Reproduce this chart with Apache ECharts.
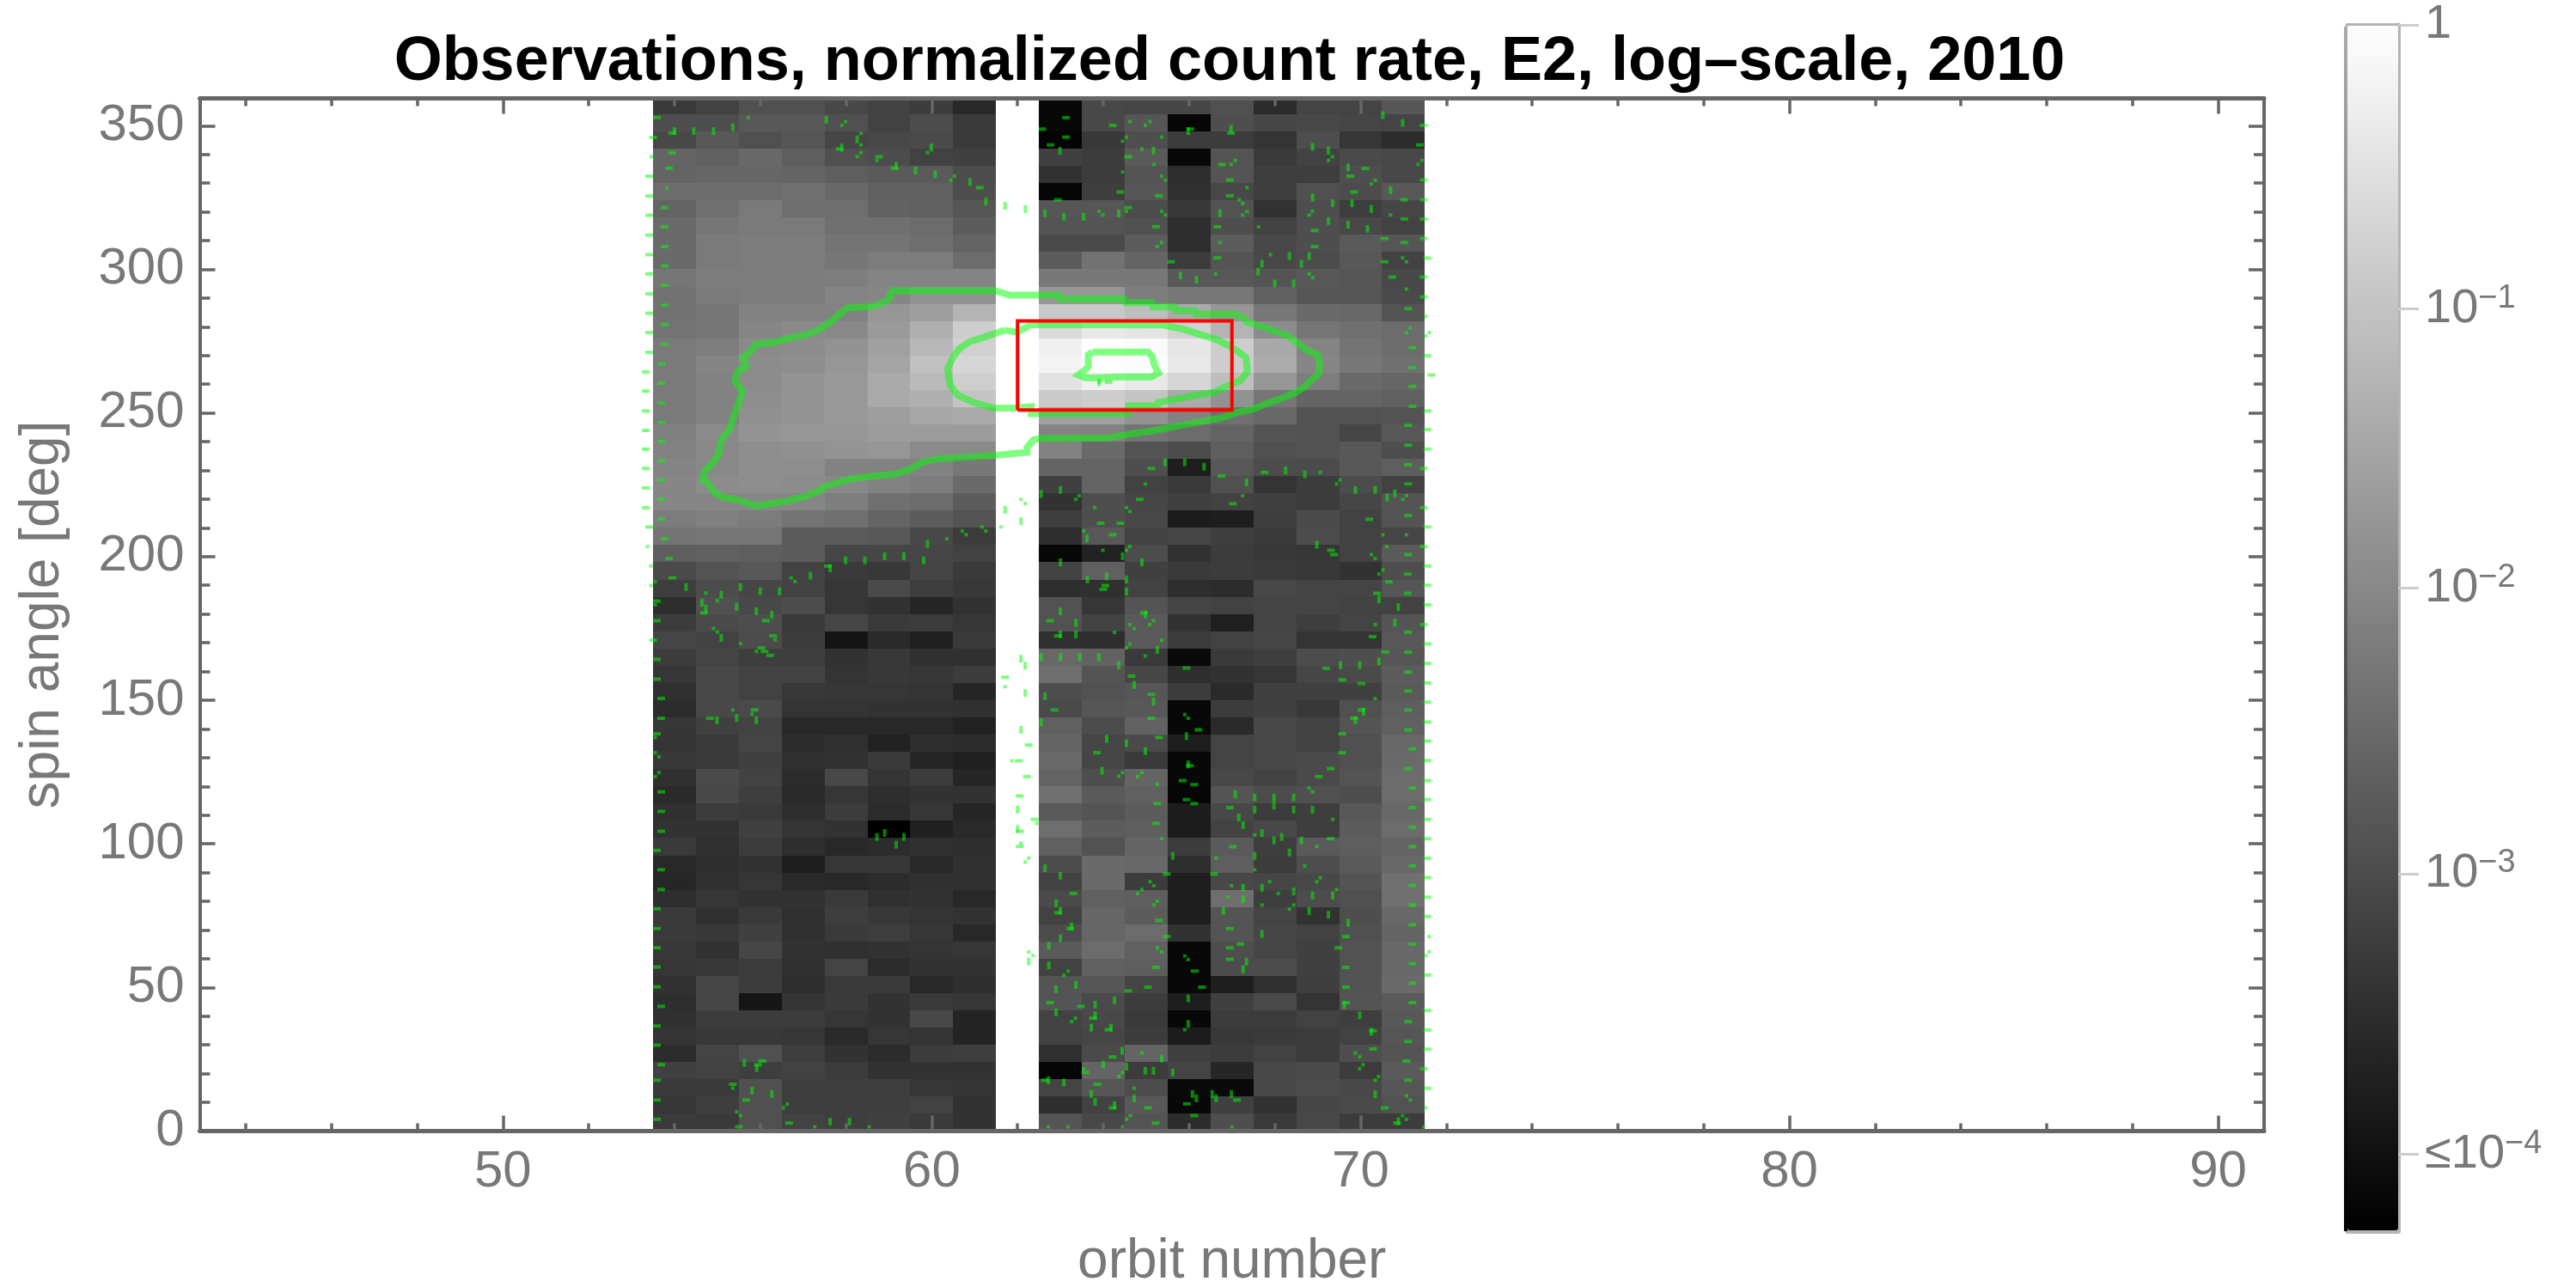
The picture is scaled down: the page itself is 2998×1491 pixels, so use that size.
<!DOCTYPE html>
<html><head><meta charset="utf-8">
<style>html,body{margin:0;padding:0;background:#fff}#c{width:2998px;height:1491px}</style>
<script src="https://cdn.jsdelivr.net/npm/echarts@6/dist/echarts.min.js"></script>
</head><body><div id="c"></div>
<script>
const titleText = 'Observations, normalized count rate, E2, log–scale, 2010';
const xName = 'orbit number';
const yName = 'spin angle [deg]';
const xMajor = [50,60,70,80,90];
const xMinor = [44,46,48,52,54,56,58,62,64,66,68,72,74,76,78,82,84,86,88];
const yMajor = [0,50,100,150,200,250,300,350];
const yMinor = [10,20,30,40,60,70,80,90,110,120,130,140,160,170,180,190,210,220,230,240,260,270,280,290,310,320,330,340];
const orbits = [54,55,56,57,58,59,60,61,63,64,65,66,67,68,69,70,71];
// count rate on the colour bar's log scale, 0 (black, below 10^-4) to 255 (white, 1); rows run from 357 deg down to 3 deg
const logRateRows = [
[58,66,80,80,72,66,60,40,8,72,70,70,80,44,68,68,86],
[78,78,88,88,80,66,76,58,8,72,86,6,78,70,72,70,68],
[72,88,80,86,70,72,74,58,4,56,78,60,60,52,78,54,44],
[100,96,104,94,80,76,66,64,64,60,90,8,84,58,66,74,72],
[100,102,102,100,94,90,90,76,50,60,84,46,84,62,62,78,72],
[108,108,108,112,104,96,96,78,6,62,86,48,72,62,80,76,88],
[100,112,122,110,110,98,96,86,86,86,76,56,82,50,78,62,70],
[106,118,122,122,112,112,108,92,84,84,80,46,78,66,78,72,66],
[106,122,124,124,116,116,110,100,74,74,92,46,92,72,78,90,86],
[106,122,124,124,118,124,124,108,92,114,100,60,84,72,76,88,66],
[118,124,124,124,126,132,132,132,120,120,120,88,88,84,88,86,72],
[114,122,124,124,132,134,146,146,150,150,125,120,120,96,86,86,74],
[114,118,130,130,130,150,158,180,200,200,190,170,150,120,106,104,84],
[116,118,134,138,136,154,175,205,218,232,228,210,180,140,118,112,108],
[122,126,138,140,146,160,184,208,240,254,250,230,205,168,132,116,108],
[122,132,140,142,150,164,192,214,243,253,252,232,205,172,134,120,112],
[122,130,140,148,152,170,186,206,226,240,232,214,190,150,126,106,102],
[122,130,142,148,152,170,176,196,202,205,196,170,145,118,100,100,96],
[122,130,144,148,152,158,166,170,160,160,146,130,112,104,82,82,84],
[128,138,148,150,150,156,156,156,132,130,116,108,100,84,82,70,88],
[130,136,142,144,148,150,138,138,130,106,84,76,94,80,82,88,78],
[132,136,142,142,130,130,130,120,100,100,78,30,88,76,76,88,94],
[134,140,142,140,136,130,125,106,64,100,66,58,80,52,60,76,66],
[134,134,134,134,126,112,108,92,50,78,70,64,66,64,60,70,84],
[124,128,124,116,112,100,92,84,62,78,72,28,30,62,74,66,84],
[116,118,118,92,92,88,72,60,46,88,66,70,62,58,76,66,70],
[94,96,94,92,70,70,70,66,8,34,76,50,60,56,54,66,90],
[74,84,88,66,58,56,68,58,66,96,64,58,60,58,56,50,78],
[62,76,70,66,54,74,62,56,46,48,66,46,44,72,68,68,86],
[46,80,72,76,54,50,38,50,82,54,84,68,66,68,68,66,66],
[60,74,78,58,70,58,60,54,82,66,90,50,32,68,62,68,84],
[70,66,76,60,20,42,32,58,48,46,90,60,66,70,52,52,88],
[60,68,62,62,50,56,48,48,104,98,58,10,58,62,76,78,86],
[54,72,66,66,52,56,54,60,110,84,70,46,50,54,70,74,92],
[48,72,66,56,54,54,52,38,78,82,86,60,42,64,64,64,90],
[44,72,74,52,52,50,50,48,74,86,88,8,60,64,56,80,94],
[54,64,66,40,40,40,40,34,96,76,98,8,42,72,66,84,96],
[52,58,68,44,48,34,46,44,100,70,74,30,68,72,66,80,104],
[56,58,64,48,50,58,38,32,106,70,58,8,68,72,74,80,106],
[48,74,66,44,72,52,60,38,100,78,100,8,72,66,74,84,108],
[42,72,62,42,54,46,50,50,112,90,96,6,84,76,80,78,108],
[48,60,58,46,60,44,54,38,90,84,92,28,72,60,62,88,104],
[50,50,64,52,50,0,32,42,110,92,94,28,66,72,62,92,108],
[58,48,60,46,40,44,48,46,96,82,100,60,90,62,90,94,100],
[40,46,50,30,54,54,40,48,76,106,104,46,94,60,78,90,104],
[38,48,54,42,40,44,48,48,66,106,60,30,72,70,72,84,112],
[46,54,50,50,58,48,50,40,74,96,94,30,110,62,76,80,112],
[58,48,58,48,62,56,52,50,66,102,92,30,84,68,50,78,104],
[58,56,64,48,58,62,54,40,76,102,108,50,84,70,66,80,100],
[56,50,70,50,48,50,52,54,90,108,96,8,78,70,64,82,104],
[54,56,60,48,68,44,50,50,66,96,94,8,76,76,64,82,104],
[50,70,60,46,58,58,40,46,84,86,68,8,30,48,62,82,106],
[46,70,22,52,58,50,58,54,84,74,60,30,64,74,52,84,90],
[48,60,60,60,54,50,72,36,66,72,58,8,60,60,66,62,88],
[52,56,56,54,42,54,52,36,66,70,60,28,56,58,60,66,86],
[44,68,80,62,50,44,60,62,48,74,100,64,60,66,60,78,84],
[64,66,62,66,60,50,50,50,6,100,60,68,38,72,74,60,90],
[58,58,80,62,62,62,54,52,68,86,76,10,10,72,76,72,86],
[54,62,80,62,62,62,66,50,46,66,88,8,64,50,70,74,82],
[58,58,80,66,62,64,58,50,84,72,84,44,78,58,72,60,60]
];
const contourOuter = [[59.03,292.4],[61.5,292.4],[61.83,291],[62.95,291.1],[62.99,289.6],[64.49,289.6],[64.52,288.4],[65.12,288.4],[65.15,286.9],[65.66,286.9],[65.7,285.6],[66.13,285.6],[66.16,284.4],[67.03,284.4],[67.29,283.1],[67.33,281.8],[67.56,280.6],[67.8,279.6],[68.06,278.1],[68.33,276.7],[68.53,274.2],[68.76,271.7],[69,270.2],[69.05,266.7],[69.03,263.7],[68.83,261.2],[68.66,258.7],[68.43,256.7],[68.13,254.9],[67.8,253.2],[67.53,251.5],[67.13,250.2],[66.73,248.2],[66.19,246.7],[65.66,245.2],[65.12,243.7],[64.59,242.6],[64.12,241.3],[62.52,241.1],[62.38,240.7],[62.22,238],[62.22,236.3],[61.46,235.2],[60.15,234],[59.77,232.8],[59.5,230.3],[59.1,228.6],[58.17,227.3],[57.83,225.8],[57.5,224.3],[57.37,222.8],[57.03,220.8],[56.63,219.3],[55.9,217.6],[55.57,219.3],[55.1,220.8],[54.9,222.8],[54.77,225.8],[54.65,226.8],[54.73,230.3],[54.87,232.3],[55.03,235.3],[55.05,237.8],[55.1,240.7],[55.3,244.7],[55.4,249.7],[55.49,253.2],[55.59,257.7],[55.4,261.2],[55.49,264.7],[55.67,266.2],[55.59,269.2],[55.77,271.2],[55.9,273.9],[56.37,274.7],[56.7,276.1],[57.17,277.6],[57.43,279.6],[57.63,281.6],[57.83,284.1],[58.03,286.6],[58.63,287],[58.9,288.6],[59.03,290.1],[59.03,292.4]];
const contourMiddle = [[61.7,278.8],[61.17,276.1],[60.87,274.7],[60.63,272.2],[60.47,268.7],[60.37,265.2],[60.43,259.7],[60.6,256.2],[60.97,253.7],[61.43,251.7],[61.92,251.7],[62.32,252.2],[62.32,249.7],[64.59,249.7],[64.59,252.5],[65.26,252.5],[65.29,253.7],[65.72,254.9],[66.19,256.2],[66.59,257.2],[66.86,259.2],[67.19,261.2],[67.36,264.2],[67.33,269.2],[67.16,271.2],[66.9,273.7],[66.53,276.1],[66.19,277.6],[65.86,279.2],[65.39,280.6],[62.32,280.8],[62.18,279.6],[61.98,278.1],[61.7,278.8]];
const contourInner = [[63.75,271.2],[65.04,271.2],[65.14,269.7],[65.19,266.7],[65.29,263.9],[65.12,262.5],[64.34,262.5],[63.85,262.2],[63.59,262.2],[63.42,263.2],[63.55,264.7],[63.65,266.2],[63.65,270.2],[63.75,271.2]];
const roiOrbit = [62,67];
const roiAngle = [251,282];
const specksH = [[53.59,352.8],[53.95,347.4],[53.95,340.6],[53.87,335.2],[53.77,321.5],[53.77,314.8],[53.77,307.9],[53.77,301.2],[53.77,294.4],[53.77,287.5],[53.77,280.8],[53.77,273.9],[53.69,267.1],[53.69,260.3],[53.69,253.4],[53.69,246.7],[53.69,240.1],[53.41,332.4],[53.41,325.5],[53.41,318.8],[53.41,311.9],[53.41,305.1],[53.41,298.4],[53.41,291.5],[53.41,284.7],[53.41,278],[53.41,271.1],[53.33,264.3],[53.33,257.6],[53.33,250.7],[53.33,243.9],[53.5,345.9],[57.85,341.9],[58.77,339.2],[59.13,335.2],[61.12,328.4],
[63.13,352.8],[62.58,348.8],[63.13,346],[62.77,343.3],[64.22,350.1],[66.03,348.8],[66.98,347.4],[64.58,339.2],[66.77,336.5],[69.76,332.4],[70.11,335.1],[64.4,326.9],[66.95,331.1],[65.3,325.6],[66.95,325.6],[69.85,326.9],[62.94,324.2],[64.58,321.5],[65.23,314.8],[66.66,314.8],[68.93,313.5],[68.93,307.9],[70.56,310.7],[71.02,309.3],[71.02,324.2],[71.02,317.5],[70.56,302.6],[70.74,297.3],[65.58,302.6],[66.66,304],[71.11,286.3],[71.11,245.7],[71.21,272.7],[71.21,265.8],[71.21,259.2],[71.21,252.3],[71.47,350.1],[71.38,343.3],[71.47,331.1],[71.47,324.2],[71.47,317.5],[71.47,310.7],[71.47,297.3],[71.47,290.4],[71.56,303.9],[71.56,269.9],[71.56,250.7],[71.56,244.2],[71.65,263.2],[64.12,260.7],
[53.69,233.4],[53.69,226.6],[53.69,219.9],[53.69,213],[53.77,206.2],[53.87,199.3],[53.95,192.6],[53.59,184.5],[53.59,177.7],[53.5,170.9],[53.59,164.2],[53.59,157.3],[53.69,150.6],[53.69,143.7],[53.59,138.3],[56.13,177.7],[56.3,172.4],[56.23,165.6],[56.03,168.2],[56.1,167],[54.69,180.4],[54.83,143.7],[55.87,146.6],[57.58,196.7],[53.33,237.4],[53.33,230.7],[53.33,223.9],[53.33,217],[53.41,210.3],[61.71,158],
[71.11,238.8],[71.11,232],[71.11,225.3],[65.12,230.7],[66.76,228],[67.76,229.3],[64.85,219.9],[67.02,218.4],[71.11,214.3],[70.2,213],[63.94,211.6],[64.4,211.6],[64.22,207.6],[71.11,200.7],[69.31,202.2],[69.38,200.7],[71.1,193.9],[70.66,191.2],[64.05,189.9],[64,188.6],[71.1,187.2],[70.38,187.2],[62.76,177.7],[64.95,180.4],[71.11,173.7],[62.94,172.4],[70.28,172.1],[70.57,166.8],[71.11,166.7],[65.94,161.2],[69.2,161.1],[64.66,158.4],[69.57,157.1],[70.02,155.8],[71.11,159.8],[71.11,153.2],[65.12,152],[62.86,146.6],[70.02,146.6],[71.11,146.6],[65.12,143.7],[69.85,143.7],[66.22,139.7],[71.11,139.7],[69.57,138.3],[65.3,137],[63.85,131.7],[69.57,131.7],[71.21,133],[71.11,126.2],[69.3,126.2],[69.03,123.4],[65.85,122],[66.12,120.6],[66.02,127.2],[71.47,230.7],[71.47,217],[71.47,203.5],[71.47,176.3],[71.56,237.4],[71.56,210.3],[71.56,196.7],[71.56,190],[71.56,183.2],[71.56,169.6],[71.56,162.8],[71.56,156],[71.56,149.3],[71.56,142.4],[71.56,135.8],[71.56,129],[71.56,122],[62.26,134.4],[62.03,128.9],[62.22,123.4],
[53.69,118.1],[53.69,111.3],[53.69,104.4],[53.59,97.7],[53.69,91],[53.69,84.1],[53.59,77.4],[53.59,70.5],[53.59,63.8],[53.59,57.1],[53.59,50.2],[53.69,43.4],[53.59,36.6],[53.59,29.9],[53.69,23.1],[53.59,17.7],[53.59,10.8],[53.59,4.1],[55.36,16.3],[55.67,10.8],[56.67,2.8],[56.05,24.4],[55.95,23.1],[55.5,1.5],
[71.21,119.4],[71.21,112.6],[71.21,105.8],[71.21,99],[71.21,92.3],[71.21,85.5],[71.21,78.7],[71.21,71.8],[71.21,65.1],[71.21,58.3],[71.21,51.5],[71.21,44.7],[71.11,38.1],[71.11,31.2],[71.07,24.4],[71.47,21.7],[65.26,114],[66.12,114],[65.94,115.4],[65.22,107.1],[66.95,112.6],[69.3,101.8],[67.02,99],[65.3,73.3],[65.48,67.7],[66.95,70.5],[69.66,67.7],[67.2,65.1],[66.95,63.8],[69.48,63.8],[66.95,59.8],[65.22,57],[69.66,57],[66.13,55.7],[66.3,50.1],[65.04,50.1],[64.58,48.8],[69.66,50.1],[62.76,44.7],[63.48,43.4],[69.66,44.7],[63.76,39.3],[64.12,35.3],[64.22,25.8],[70.29,28.6],[63.58,20.4],[62.64,17.7],[63.86,16.3],[65.95,9.5],[67.12,10.8],[64.22,8.1],[65.04,8.1],[66.12,5.4],[70.56,8.1],[65.22,2.8],[70.85,2.8],[71.11,17.7],[66.58,89.5],[65.48,89.5],[63.3,82.7],[62.94,76],[63.23,70.5],[70.29,34.9],
[71.56,115.4],[71.56,108.5],[71.56,101.8],[71.56,95],[71.56,88.2],[71.56,81.4],[71.56,74.7],[71.56,54.3],[71.56,42],[71.56,35.2],[71.56,28.5],[71.56,14.9],[62.05,116.7],[62.4,108.5],[62.05,104.4],[62.05,99.1]];
const specksV = [[54,348.1],[54.45,348.1],[54.91,348.1],[55.36,349.4],[57.54,352.1],[58.26,345.2],[57.9,342.4],[59.99,342.4],[59.17,336],[59.62,334.4],[60.08,333.1],[60.89,330.4],[61.26,323.6],[61.71,322.1],
[62.99,341.3],[62.64,319.5],[63.08,318.3],[63.54,318.3],[64.36,319.5],[70.52,353.6],[70.98,350.9],[65.98,348.1],[65.17,341.3],[68.88,342.6],[69.25,341.3],[69.71,335.5],[68.88,325],[69.35,323],[69.8,323],[70.25,321],[70.7,327.5],[69.25,316.8],[69.71,315.5],[70.16,314.1],[66.72,319.5],[68.34,304.6],[68.8,304.6],[67.7,301.9],[68.62,301.9],[67.61,299.2],[65.8,297.8],[66.17,296.4],[68,295.1],[68.44,295.1],[66.98,348.9],[62.18,321],
[57.99,198.7],[58.44,198.7],[58.9,200.1],[59.35,200.1],[59.81,198.7],[59.9,204.4],[57.63,195.9],[57.17,193.3],[54.27,189.4],[55.54,189.4],[56,187.9],[56.45,187.9],[55.09,186.7],[54.64,183.9],[55.45,182.5],[55.91,181],[56.27,179.8],[55.09,171.7],[55.45,143.8],[55.91,143],[54.99,143],[54.73,181.9],[61.71,216.3],
[65.44,232.8],[65.9,232.8],[66.35,231.3],[67.34,225.8],[68.25,230],[68.7,228.6],[63,223.2],[62.55,221.8],[69.88,223.2],[70.34,223.2],[70.8,222],[70.62,220.5],[63.62,206.3],[64.45,200.1],[68.98,204.1],[63,198],[64.9,198],[64.08,193.1],[64.54,192],[63.63,192],[64.54,187.8],[70.43,185.1],[70.88,182.4],[63,180.9],[63.36,177],[63.36,172.9],[70.8,177],[64.98,179.9],[65.26,167.5],[63,172.9],[62.55,165],[63,165],[63.45,165],[63.9,165],[64.36,162.2],[69.53,162.2],[69.98,162.2],[70.43,163.5],[64.72,155.3],[62.64,151.4],[65.17,149.5],[62.55,142.3],[70.07,146],[69.88,143],[64.08,136.5],[64.54,135],[64.98,132.3],[63.97,125.4],[65.98,127.6],[65.94,137.5],[62.08,212.3],[62.08,164.4],[62.18,162],[62.18,152.5],[62.08,139.7],
[58.72,102.4],[58.9,103.8],[59.35,102.4],[59.17,99.7],[55.63,23.7],[55.81,14.1],[56.27,12.9],[57.63,3.3],[58.08,3.3],[55.92,21.9],
[67.08,117.3],[67.53,116.1],[67.98,116.1],[68.44,116.1],[67.53,111.9],[67.98,113.3],[68.44,111.9],[68.88,111.9],[67.16,109.2],[67.26,106.5],[67.98,101.2],[68.16,102.4],[68.62,101.2],[67.7,103.8],[65.62,95.8],[67.53,95.8],[68.34,97],[62.64,91.5],[63,88.9],[67.26,84.7],[68.44,83.4],[67.7,84.7],[68.88,82],[69.35,82],[67.26,80.7],[62.9,79.3],[63,76.7],[66.8,76.7],[68.8,76.6],[69.25,75.3],[69.71,72.5],[63.26,71.2],[67.7,68.6],[63,67.1],[62.73,64.5],[67.34,59],[67.26,56.3],[62.73,57.7],[63.36,50.9],[62.9,49.4],[65.98,46.2],[64.26,45.5],[63.81,44],[62.9,41.3],[63.81,40.3],[65.98,37.3],[63.72,36],[64.18,36],[69.98,40.3],[64.44,27.9],[65.36,25.2],[64,23.2],[64.54,22.4],[64.98,21],[65.17,21],[69.62,43.9],[70.25,34.6],[65.62,20.4],[62.72,17.7],[63.08,16.9],[70.34,12.8],[63.72,12.9],[63.81,10.2],[64.72,11.4],[66.08,12.9],[66.17,11.4],[66.54,12.9],[66.63,11.4],[66.99,12.9],[64.26,9],[70.88,3.4],[62,111.9],[62,105.1],[62.26,59],[63.9,260.7]];
const specksD = [[55.72,352.8],[57.99,351.4],[57.9,350.1],[58.35,347.3],[58.35,343.3],[58.35,340.6],[58.26,339.2],[59.9,340.6],[58.72,337.9],[60.53,332.4],[60.44,331],[53.82,328.4],[53.46,339.2],
[64.62,351.4],[65.09,351.4],[64.98,350.1],[64.54,346],[64.45,344.6],[65.36,346],[64.9,341.9],[64.45,333.9],[65.18,336.5],[65.36,332.4],[65.45,331],[66.98,336.5],[67.08,337.9],[67.35,328.4],[67.17,324.2],[67.25,322.9],[63.9,320.2],[63.99,318.9],[64.54,320.2],[65.36,320.2],[65.45,318.9],[67.25,318.9],[67.35,320.2],[67.62,314.8],[66.72,309.3],[68.88,320.2],[68.8,318.9],[70.7,318.9],[65.36,309.3],[65.26,307.9],[67.9,305.1],[70.98,304],[71.07,302.6],[71.07,293.1],[66.62,298.4],[68.8,298.4],[68.88,297.1],[69.25,337.9],[69.34,339.2],[70.25,329.7],[70.34,331],[71.34,336.5],[71.43,337.9],[71.16,279.6],[71.07,278],[71.52,283.6],[71.52,276.8],[71.6,278],
[60.35,206.2],[60.71,208.9],[60.8,207.6],[61.17,210.3],[61.26,208.9],[56.72,192.6],[56.81,191.3],[54.73,187.3],[55,184.6],[54.91,175],[55,173.7],[55.54,169.7],[55.91,167],[56.35,171],[55.36,146.6],[55.81,145.2],[53.55,183.2],[53.55,191.3],[53.45,196.7],[53.45,189.9],[53.37,203.5],[53.55,131.7],[53.64,130.3],[53.64,124.8],[53.55,123.4],[53.55,137],[61.61,210.3],[61.71,154.7],[61.87,128.9],
[64.98,225.3],[69.52,226.7],[69.44,225.3],[67.25,221.2],[69.06,229.3],[70.98,219.9],[71.07,221.2],[63.36,219.9],[63.44,221.2],[63.8,217],[64.54,217],[64.62,215.7],[70.52,207.6],[71.07,207.6],[63.54,208.9],[64.62,203.5],[64.54,202.2],[63.99,202.2],[70.61,203.5],[70.25,200.7],[70.34,199.3],[70.52,195.3],[70.43,193.9],[70.34,176.3],[65.08,176.3],[64.62,176.3],[64.72,174.9],[65.17,177.7],[65.36,170.9],[64.26,173.6],[64.62,169.6],[64.54,168.2],[64.98,165.4],[70.34,150.6],[65.9,145],[65.98,143.7],[64.36,123.5],[64.45,124.8],[64.9,124.8],[64.8,123.4],[65.26,120.7],[62.08,219.9],[62.18,218.5],
[55.36,14.9],[55.45,6.7],[55.54,5.4],[56.63,9.4],[56.54,8.1],[57.27,1.5],[58.54,1.5],
[68.8,119.4],[68.88,118.1],[69.35,108.5],[67.53,103.1],[65.36,101.8],[68.98,99.1],[66.63,95],[67.53,91],[68.7,92.3],[69.06,88.2],[68.98,86.8],[67.88,86.8],[65.09,86.8],[65.18,85.4],[64.9,84.1],[64.8,82.7],[66.99,85.4],[68.08,82.7],[69.44,84.1],[66.9,81.4],[65.26,80],[65.18,78.7],[67.7,78.7],[68.44,78.7],[68.34,77.3],[65.26,63.8],[65.36,62.4],[65.9,61],[65.98,59.7],[63.18,55.7],[63.08,54.3],[63.35,39.3],[63.26,38.1],[65.9,35.3],[69.88,27.2],[69.98,25.8],[70.06,23.1],[69.98,21.7],[64.9,27.2],[64.36,19],[64.45,20.4],[63.54,21.7],[64.72,14.9],[70.42,19],[70.34,17.7],[71.07,12.2],[71.16,10.8],[70.98,5.4],[71.07,4.1],[64.63,5.4],[64.54,4.1],[62.72,1.5],[63.18,1.5],[64.45,1.5],[67,1.5],[71.47,1.5],[71.6,67.7],[71.6,62.4],[71.52,61.1],[71.52,8.1],[62.45,107.1],[62.08,100.2],[62.26,95],[62.18,93.7],[62.26,62.4],[62.36,61.1],[63.9,260.7]];
const barTickLevels = [255,195,136,75.6,16.3];
const barTickText = ['1','10{s|−1}','10{s|−2}','10{s|−3}','≤10{s|−4}'];

const cells = [];
logRateRows.forEach((row, r) => row.forEach((v, c) => cells.push([orbits[c], 357 - 6 * r, v])));

const GRAY = '#666666', FONT = 'Liberation Sans';
const GREEN = 'rgba(0,255,0,0.5)';
const labelStyle = {color: '#787878', fontFamily: FONT, fontSize: 60};
const nameStyle = {color: '#787878', fontFamily: FONT, fontSize: 64};

function frameX(pos, ticks, len, lineOn, labels) {
  return {type:'value', gridIndex:0, position:pos, min:42.93, max:91.07, z:6, splitLine:{show:false}, scale:true,
    axisLine:{show:lineOn, onZero:false, lineStyle:{color:GRAY, width:5}},
    axisTick:{show:true, inside:true, length:len, customValues:ticks, lineStyle:{color:GRAY, width:3.5}},
    axisLabel: labels ? Object.assign({show:true, customValues:xMajor, margin:18, formatter:v=>String(v)}, labelStyle) : {show:false},
    name: labels ? xName : '', nameLocation:'middle', nameGap:121, nameTextStyle:nameStyle};
}
function frameY(pos, ticks, len, lineOn, labels) {
  return {type:'value', gridIndex:0, position:pos, min:0, max:359.5, z:6, splitLine:{show:false},
    axisLine:{show:lineOn, onZero:false, lineStyle:{color:GRAY, width:4}},
    axisTick:{show:true, inside:true, length:len, customValues:ticks, lineStyle:{color:GRAY, width:3.5}},
    axisLabel: labels ? Object.assign({show:true, customValues:yMajor, margin:18, formatter:v=>String(v)}, labelStyle) : {show:false},
    name: labels ? yName : '', nameLocation:'middle', nameGap:150, nameTextStyle:nameStyle};
}
const chart = echarts.init(document.getElementById('c'), null, {renderer:'canvas', width:2998, height:1491});
function specks(data, size) {
  return {type:'scatter', xAxisIndex:0, yAxisIndex:0, data, symbol:'rect', symbolSize:size, silent:true, z:3,
    itemStyle:{color:GREEN, opacity:1}, animation:false};
}
function contour(data) {
  return {type:'line', xAxisIndex:0, yAxisIndex:0, data, showSymbol:false, symbol:'none', silent:true, z:3, animation:false,
    lineStyle:{color:GREEN, width:8, join:'miter', opacity:1}};
}
chart.setOption({
  animation:false, backgroundColor:'#fff',
  title:{text:titleText, left:1426, top:32, textAlign:'center',
    textStyle:{color:'#000', fontFamily:FONT, fontWeight:'bold', fontSize:72}},
  grid:[{left:232.5, top:114.5, width:2402.5, height:1202, containLabel:false, outerBoundsMode:'none'},
        {left:2732, top:29, width:59, height:1404, containLabel:false, outerBoundsMode:'none'}],
  xAxis:[
    frameX('bottom', xMajor, 18, true, true),
    frameX('bottom', xMinor, 9, false, false),
    frameX('top', xMajor, 18, true, false),
    frameX('top', xMinor, 9, false, false),
    {type:'value', gridIndex:1, position:'bottom', min:0, max:1, axisLine:{show:true,onZero:false,lineStyle:{color:'#b4b4b4',width:5}}, axisTick:{show:false}, axisLabel:{show:false}, splitLine:{show:false}},
    {type:'value', gridIndex:1, position:'top', min:0, max:1, axisLine:{show:true,onZero:false,lineStyle:{color:'#b4b4b4',width:5}}, axisTick:{show:false}, axisLabel:{show:false}, splitLine:{show:false}}
  ],
  yAxis:[
    frameY('left', yMajor, 18, true, true),
    frameY('left', yMinor, 12, false, false),
    frameY('right', yMajor, 18, true, false),
    frameY('right', yMinor, 12, false, false),
    {type:'value', gridIndex:1, position:'right', min:0, max:255, splitLine:{show:false},
     axisLine:{show:true,onZero:false,lineStyle:{color:'#b4b4b4',width:5}},
     axisTick:{show:true, length:24, customValues:barTickLevels, lineStyle:{color:'#cccccc',width:3}},
     axisLabel:{show:true, customValues:barTickLevels, margin:31, color:'#787878', fontFamily:FONT, fontSize:56, align:'left',
       formatter:v=>barTickText[barTickLevels.indexOf(v)],
       rich:{s:{fontFamily:FONT, fontSize:38, color:'#787878', padding:[0,0,24,0]}}}}
  ],
  visualMap:[{type:'continuous', seriesIndex:0, dimension:2, min:0, max:255, left:2732, top:30, itemWidth:59, itemHeight:1402,
    padding:0, calculable:false, realtime:false, hoverLink:false, text:null, showLabel:false,
    inRange:{color:['#000000','#ffffff']}, outOfRange:{color:'#fff'}}],
  graphic:[{type:'rect', z:10, shape:{x:2728, y:31, width:4, height:1402}, silent:true,
    style:{fill:new echarts.graphic.LinearGradient(0,0,0,1,[{offset:0,color:'#aaaaaa'},{offset:1,color:'#000000'}])}}],
  series:[
    {type:'custom', xAxisIndex:0, yAxisIndex:0, data:cells, z:2, clip:true, silent:true, animation:false,
     encode:{x:0, y:1},
     renderItem:(p, api) => {
       const a = api.coord([api.value(0)-0.5, api.value(1)+3]);
       const b = api.coord([api.value(0)+0.5, api.value(1)-3]);
       const x0=Math.round(a[0]), y0=Math.round(a[1]), x1=Math.round(b[0]), y1=Math.round(b[1]);
       return {type:'rect', shape:{x:x0, y:y0, width:x1-x0, height:y1-y0}, style:{fill:api.visual('color')}};
     }},
    specks(specksH, [9,4]),
    specks(specksV, [4,9]),
    specks(specksD, [4,4]),
    contour(contourOuter),
    contour(contourMiddle),
    contour(contourInner),
    {type:'line', xAxisIndex:0, yAxisIndex:0, showSymbol:false, symbol:'none', silent:true, z:4, animation:false,
     data:[[roiOrbit[0],roiAngle[0]],[roiOrbit[0],roiAngle[1]],[roiOrbit[1],roiAngle[1]],[roiOrbit[1],roiAngle[0]],[roiOrbit[0],roiAngle[0]]],
     lineStyle:{color:'#ff0000', width:4, join:'miter', opacity:1}}
  ]
});
</script></body></html>
